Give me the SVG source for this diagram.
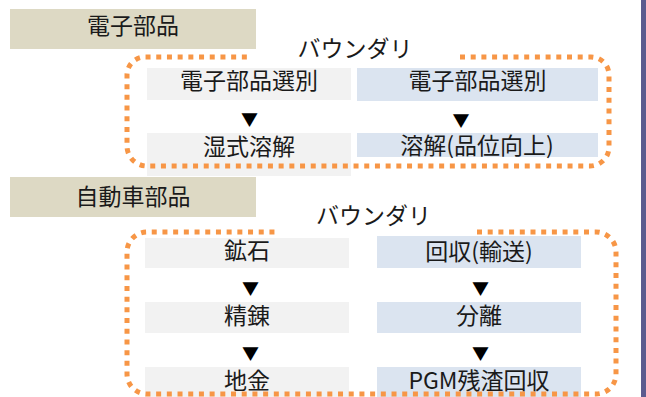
<svg xmlns="http://www.w3.org/2000/svg" width="646" height="397" viewBox="0 0 646 397">
<style>
  text { font-family: "Noto Sans CJK JP", "Noto Sans", sans-serif; font-size: 23px; fill: #1a1a1a; text-anchor: middle; }
  .hdr { fill: #ddd9c4; }
  .gray { fill: #f2f2f2; }
  .blue { fill: #dbe4f0; }
  .bound { fill: none; stroke: #f79646; stroke-width: 5; stroke-dasharray: 5 5.7; }
  .arr { font-size: 17px; fill: #000; }
</style>
<rect x="0" y="0" width="646" height="397" fill="#ffffff"/>
<rect x="641" y="0" width="5" height="397" fill="#5b5b8f"/>

<g id="header-denshi">
  <rect class="hdr" x="10" y="9" width="246" height="40"/>
  <text x="133" y="34">電子部品</text>
</g>
<g id="header-jidousha">
  <rect class="hdr" x="10" y="177" width="246" height="40"/>
  <text x="133" y="205">自動車部品</text>
</g>

<g id="e-gray-sort">
  <rect class="gray" x="147" y="68" width="204" height="32"/>
  <text x="249" y="89">電子部品選別</text>
</g>
<g id="e-blue-sort">
  <rect class="blue" x="357" y="68" width="241" height="33"/>
  <text x="477.5" y="89">電子部品選別</text>
</g>
<g id="e-gray-wet">
  <rect class="gray" x="147" y="133" width="204" height="43"/>
  <text x="249" y="155">湿式溶解</text>
</g>
<g id="e-blue-dissolve">
  <rect class="blue" x="357" y="133" width="241" height="24"/>
  <text x="477" y="154">溶解(品位向上)</text>
</g>

<g id="a-gray-ore">
  <rect class="gray" x="145" y="238" width="204" height="30"/>
  <text x="247" y="259">鉱石</text>
</g>
<g id="a-gray-refine">
  <rect class="gray" x="145" y="302" width="204" height="31"/>
  <text x="247" y="324">精錬</text>
</g>
<g id="a-gray-ingot">
  <rect class="gray" x="145" y="367" width="204" height="30"/>
  <text x="247" y="389">地金</text>
</g>
<g id="a-blue-collect">
  <rect class="blue" x="377" y="236" width="204" height="32"/>
  <text x="479" y="260">回収(輸送)</text>
</g>
<g id="a-blue-separate">
  <rect class="blue" x="377" y="302" width="204" height="31"/>
  <text x="479" y="324">分離</text>
</g>
<g id="a-blue-pgm">
  <rect class="blue" x="377" y="367" width="204" height="30"/>
  <text x="479" y="389">PGM残渣回収</text>
</g>

<g id="boundary-1">
  <path class="bound" d="M 460 57 H 591 A 18 18 0 0 1 609 75 V 147 A 19 19 0 0 1 590 166 H 147 A 20 20 0 0 1 127 146 V 75 A 18 18 0 0 1 145 57 H 250"/>
  <text x="355" y="57">バウンダリ</text>
</g>
<g id="boundary-2">
  <path class="bound" d="M 477 232 H 596 A 20 20 0 0 1 616 252 V 374 A 20 20 0 0 1 596 394 H 147 A 20 20 0 0 1 127 374 V 252 A 20 20 0 0 1 147 232 H 277"/>
  <text x="373.5" y="224">バウンダリ</text>
</g>

<g id="connectors">
  <text class="arr" x="249.5" y="126">▼</text>
  <text class="arr" x="461" y="127">▼</text>
  <text class="arr" x="250.5" y="295">▼</text>
  <text class="arr" x="250.5" y="360">▼</text>
  <text class="arr" x="480.5" y="295">▼</text>
  <text class="arr" x="480.5" y="360">▼</text>
</g>
</svg>
